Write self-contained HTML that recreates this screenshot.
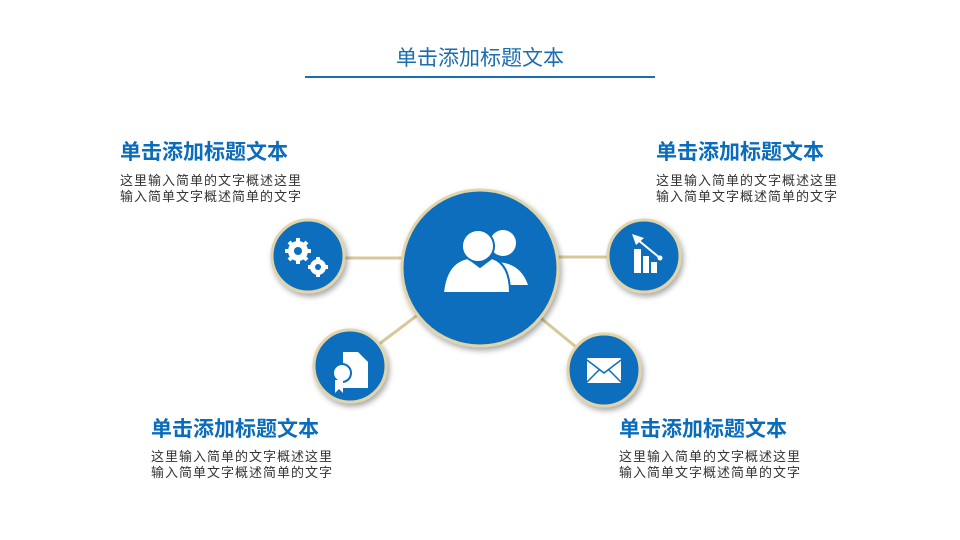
<!DOCTYPE html>
<html><head><meta charset="utf-8"><style>
body{margin:0;width:960px;height:540px;background:#fff;position:relative;overflow:hidden;font-family:"Liberation Sans","Noto Sans CJK SC",sans-serif}
.t{position:absolute;white-space:nowrap}
.h{font-size:21px;font-weight:bold;color:#0b6cbb;line-height:24px}
.b{font-size:13px;letter-spacing:1px;color:#333;line-height:16px}
</style></head><body>
<div class="t" style="left:0;width:960px;text-align:center;top:42px;font-size:21px;color:#1a6db0">单击添加标题文本</div>
<div style="position:absolute;left:305px;top:76px;width:350px;height:2px;background:#1a6db0"></div>

<div class="t h" style="left:120px;top:141px">单击添加标题文本</div>
<div class="t b" style="left:120px;top:173px">这里输入简单的文字概述这里<br>输入简单文字概述简单的文字</div>
<div class="t h" style="left:656px;top:141px">单击添加标题文本</div>
<div class="t b" style="left:656px;top:173px">这里输入简单的文字概述这里<br>输入简单文字概述简单的文字</div>
<div class="t h" style="left:151px;top:418px">单击添加标题文本</div>
<div class="t b" style="left:151px;top:449px">这里输入简单的文字概述这里<br>输入简单文字概述简单的文字</div>
<div class="t h" style="left:619px;top:418px">单击添加标题文本</div>
<div class="t b" style="left:619px;top:449px">这里输入简单的文字概述这里<br>输入简单文字概述简单的文字</div>

<svg width="960" height="540" style="position:absolute;left:0;top:0">
<defs><filter id="s" x="-30%" y="-30%" width="160%" height="160%"><feDropShadow dx="2" dy="3" stdDeviation="3" flood-color="#000" flood-opacity="0.35"/></filter></defs>
<g stroke="#d8c898" stroke-width="3">
<line x1="308" y1="258" x2="480" y2="258"/>
<line x1="480" y1="257" x2="644" y2="257"/>
<line x1="350" y1="366" x2="480" y2="268"/>
<line x1="604" y1="370" x2="480" y2="268"/>
</g>
<g fill="#0a6ebd" stroke="#e0d4a8" stroke-width="3" filter="url(#s)">
<circle cx="480" cy="268" r="78"/>
<circle cx="308" cy="256" r="36"/>
<circle cx="644" cy="256" r="36"/>
<circle cx="350" cy="366" r="36"/>
<circle cx="604" cy="370" r="36"/>
</g>
<g fill="#fff">
<circle cx="503" cy="243" r="13"/>
<path d="M495 262 Q520 262 528 285 L510 285 Z"/>
<path d="M480 267 L492 258 Q510 264 510 293 L443 293 Q446 262 468 258 Z" stroke="#0a6ebd" stroke-width="2"/>
<circle cx="478" cy="246" r="16" stroke="#0a6ebd" stroke-width="2"/>
<circle cx="298" cy="251" r="10"/><circle cx="318" cy="267" r="8"/>
<g stroke="#fff" stroke-width="4"><line x1="298" y1="238" x2="298" y2="264"/><line x1="285" y1="251" x2="311" y2="251"/><line x1="289" y1="242" x2="307" y2="260"/><line x1="307" y1="242" x2="289" y2="260"/>
<line x1="318" y1="257" x2="318" y2="277"/><line x1="308" y1="267" x2="328" y2="267"/></g>
<circle cx="298" cy="251" r="4" fill="#0a6ebd"/><circle cx="318" cy="267" r="3" fill="#0a6ebd"/>
<rect x="634" y="249" width="7" height="24"/><rect x="643" y="256" width="6" height="17"/><rect x="651" y="262" width="6" height="11"/>
<line x1="638" y1="240" x2="660" y2="258" stroke="#fff" stroke-width="2"/><circle cx="660" cy="258" r="2.5"/>
<path d="M632 234 L644 238 L636 245 Z"/>
<path d="M343 352 L358 352 L368 362 L368 388 L343 388 Z"/>
<circle cx="342" cy="373" r="9" stroke="#0a6ebd" stroke-width="2"/>
<path d="M335 380 L335 393 L339 389 L343 393 L343 380 Z"/>
<rect x="587" y="358" width="34" height="25" rx="1"/>
<path d="M587 360 L604 373 L621 360 M587 382 L599 370 M621 382 L609 370" stroke="#0a6ebd" stroke-width="1.5" fill="none"/>
</g>
</svg>
</body></html>
